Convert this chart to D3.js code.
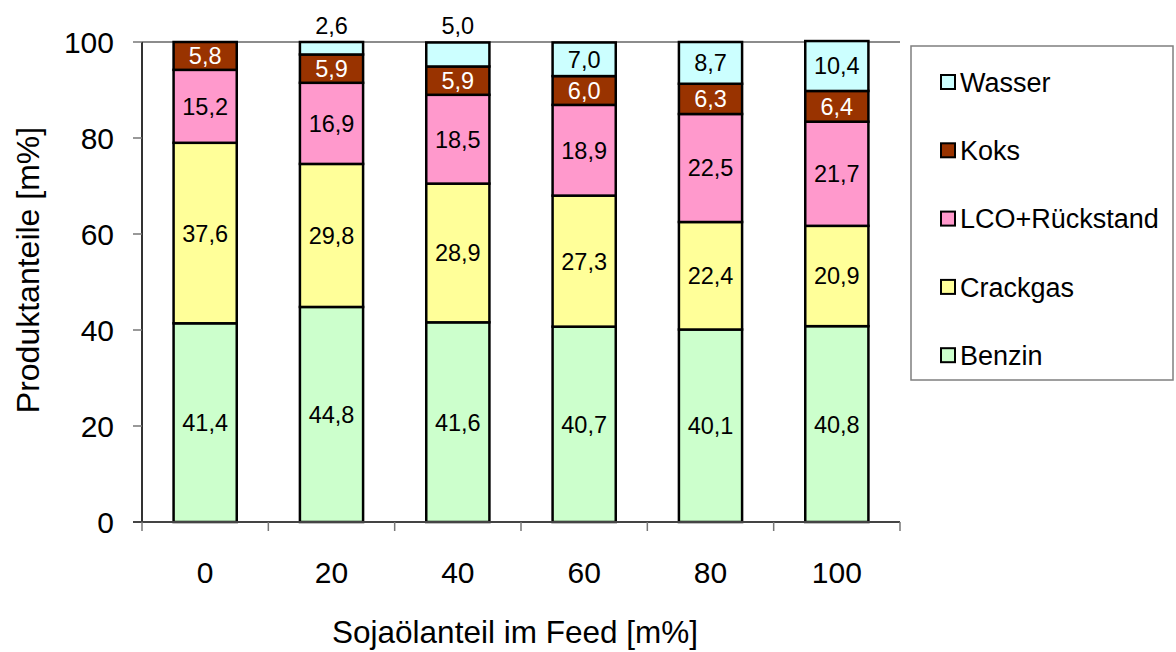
<!DOCTYPE html>
<html>
<head>
<meta charset="utf-8">
<script src="https://cdn.jsdelivr.net/npm/d3@7"></script>
<style>
  html, body { margin: 0; padding: 0; background: #fff; }
  svg { display: block; font-family: "Liberation Sans", Arial, sans-serif; }
</style>
</head>
<body>
<svg id="chart" width="1176" height="652"></svg>
<script>
// Feed composition (soybean oil share, m%)
const categories = ["0", "20", "40", "60", "80", "100"];

// Product shares per feed (m%), bottom to top in the stack
const benzin   = [41.4, 44.8, 41.6, 40.7, 40.1, 40.8];
const crackgas = [37.6, 29.8, 28.9, 27.3, 22.4, 20.9];
const lcoRueck = [15.2, 16.9, 18.5, 18.9, 22.5, 21.7];
const koks     = [5.8, 5.9, 5.9, 6.0, 6.3, 6.4];
const wasser   = [0, 2.6, 5.0, 7.0, 8.7, 10.4];

const seriesNames = ["Benzin", "Crackgas", "LCO+Rückstand", "Koks", "Wasser"];
const seriesValues = [benzin, crackgas, lcoRueck, koks, wasser];
const seriesColors = ["#CCFFCC", "#FFFF99", "#FF99CC", "#993300", "#CCFFFF"];
const labelColors  = ["#000", "#000", "#000", "#fff", "#000"];

const yTicks = [0, 20, 40, 60, 80, 100];

const svg = d3.select("#chart");
const plot = { left: 142, right: 900, top: 42, bottom: 522 };

const x = d3.scaleBand()
  .domain(categories)
  .range([plot.left, plot.right])
  .paddingInner(0.5)
  .paddingOuter(0.25);

const y = d3.scaleLinear().domain([0, 100]).range([plot.bottom, plot.top]);

// rows for the stack layout
const rows = categories.map((c, i) => {
  const r = { cat: c };
  seriesNames.forEach((s, k) => { r[s] = seriesValues[k][i]; });
  return r;
});
const stacked = d3.stack().keys(seriesNames)(rows);

// top boundary line at 100
svg.append("line")
  .attr("x1", plot.left).attr("x2", plot.right)
  .attr("y1", y(100)).attr("y2", y(100))
  .attr("stroke", "#8c8c8c").attr("stroke-width", 2);

// bars
const layers = svg.append("g").selectAll("g")
  .data(stacked)
  .join("g")
  .attr("fill", (d, k) => seriesColors[k]);

layers.selectAll("rect")
  .data(d => d.filter(p => p[1] - p[0] > 0))
  .join("rect")
  .attr("x", d => x(d.data.cat))
  .attr("width", x.bandwidth())
  .attr("y", d => y(d[1]))
  .attr("height", d => y(d[0]) - y(d[1]))
  .attr("stroke", "#000")
  .attr("stroke-width", 2.5);

// value labels
const fmt = v => d3.format(".1f")(v).replace(".", ",");
stacked.forEach((layer, k) => {
  layer.forEach(p => {
    const v = p[1] - p[0];
    if (v <= 0) return;
    const cx = x(p.data.cat) + x.bandwidth() / 2;
    const small = seriesNames[k] === "Wasser" && v < 6;
    svg.append("text")
      .attr("x", cx)
      .attr("y", small ? y(100) - 8 : (y(p[0]) + y(p[1])) / 2)
      .attr("dy", small ? 0 : "0.36em")
      .attr("text-anchor", "middle")
      .attr("font-size", 23.5)
      .attr("fill", small ? "#000" : labelColors[k])
      .text(fmt(v));
  });
});

// y axis
const yAxis = svg.append("g");
yAxis.append("line")
  .attr("x1", plot.left).attr("x2", plot.left)
  .attr("y1", plot.top).attr("y2", plot.bottom)
  .attr("stroke", "#333").attr("stroke-width", 2);
yAxis.selectAll("line.tick")
  .data(yTicks).join("line").attr("class", "tick")
  .attr("x1", plot.left - 9).attr("x2", plot.left)
  .attr("y1", d => y(d)).attr("y2", d => y(d))
  .attr("stroke", "#777").attr("stroke-width", 1.5);
yAxis.selectAll("text")
  .data(yTicks).join("text")
  .attr("x", plot.left - 28)
  .attr("y", d => y(d))
  .attr("dy", "0.36em")
  .attr("text-anchor", "end")
  .attr("font-size", 30)
  .text(d => d);

// x axis
const xAxis = svg.append("g");
xAxis.append("line")
  .attr("x1", plot.left - 9).attr("x2", plot.right)
  .attr("y1", plot.bottom).attr("y2", plot.bottom)
  .attr("stroke", "#444").attr("stroke-width", 2);
const bounds = d3.range(categories.length + 1).map(i => plot.left + i * (plot.right - plot.left) / categories.length);
xAxis.selectAll("line.tick")
  .data(bounds).join("line").attr("class", "tick")
  .attr("x1", d => d).attr("x2", d => d)
  .attr("y1", plot.bottom).attr("y2", plot.bottom + 9)
  .attr("stroke", "#777").attr("stroke-width", 1.5);
xAxis.selectAll("text")
  .data(categories).join("text")
  .attr("x", d => x(d) + x.bandwidth() / 2)
  .attr("y", 583)
  .attr("text-anchor", "middle")
  .attr("font-size", 30)
  .text(d => d);

// axis titles
svg.append("text")
  .attr("x", 515)
  .attr("y", 643)
  .attr("text-anchor", "middle")
  .attr("font-size", 31.5)
  .text("Sojaölanteil im Feed [m%]");

svg.append("text")
  .attr("transform", "translate(39,270) rotate(-90)")
  .attr("text-anchor", "middle")
  .attr("font-size", 32)
  .text("Produktanteile [m%]");

// legend
const legend = svg.append("g");
legend.append("rect")
  .attr("x", 911).attr("y", 46)
  .attr("width", 262).attr("height", 334)
  .attr("fill", "#fff")
  .attr("stroke", "#7f7f7f").attr("stroke-width", 1.5);

const legendOrder = [4, 3, 2, 1, 0];
legendOrder.forEach((k, i) => {
  const cy = 82 + i * 68.3;
  legend.append("rect")
    .attr("x", 941).attr("y", cy - 7)
    .attr("width", 14).attr("height", 14)
    .attr("fill", seriesColors[k])
    .attr("stroke", "#000").attr("stroke-width", 2);
  legend.append("text")
    .attr("x", 960).attr("y", cy)
    .attr("dy", "0.36em")
    .attr("font-size", 27)
    .text(seriesNames[k]);
});
</script>
</body>
</html>
